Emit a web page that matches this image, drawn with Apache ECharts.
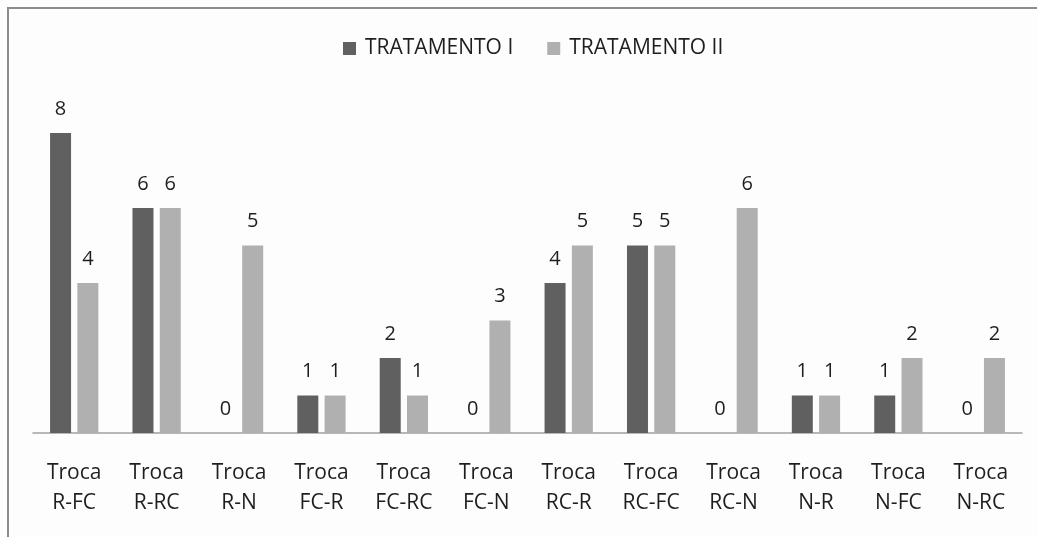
<!DOCTYPE html>
<html>
<head>
<meta charset="utf-8">
<script src="https://cdn.jsdelivr.net/npm/echarts@6/dist/echarts.min.js"></script>
<style>
html,body{margin:0;padding:0;background:#fdfdfd;}
#frame{position:absolute;left:7px;top:7px;width:1040px;height:540px;border-left:2px solid #8c8c8c;border-top:2px solid #8c8c8c;}
#chart{position:absolute;left:0;top:0;width:1037px;height:537px;}
</style>
</head>
<body>
<div id="frame"></div>
<div id="chart"></div>
<script>
const categories = ['Troca\nR-FC','Troca\nR-RC','Troca\nR-N','Troca\nFC-R','Troca\nFC-RC','Troca\nFC-N','Troca\nRC-R','Troca\nRC-FC','Troca\nRC-N','Troca\nN-R','Troca\nN-FC','Troca\nN-RC'];
const seriesNames = ['TRATAMENTO I','TRATAMENTO II'];
const tratamentoI = [8,6,0,1,2,0,4,5,0,1,1,0];
const tratamentoII = [4,6,5,1,1,3,5,5,6,1,2,2];

const font = '"Open Sans", "Noto Sans", sans-serif';
const chart = echarts.init(document.getElementById('chart'));
const labelCfg = {show:true, position:'top', distance:14, fontSize:20, fontFamily:font, color:'#1e1e1e'};
chart.setOption({
  backgroundColor:'transparent',
  animation:false,
  legend:{
    top:33, left:338, itemWidth:13, itemHeight:13, itemGap:34,
    icon:'rect',
    textStyle:{fontSize:21, fontFamily:font, color:'#1e1e1e', padding:[0,0,0,4]},
    data:seriesNames
  },
  grid:{left:33, right:15, top:133, bottom:104, containLabel:false},
  xAxis:{
    type:'category', data:categories,
    axisLine:{lineStyle:{color:'#a0a0a0', width:1.5}},
    axisTick:{show:false},
    axisLabel:{fontSize:21, fontFamily:font, color:'#1e1e1e', lineHeight:30, margin:25, interval:0}
  },
  yAxis:{type:'value', min:0, max:8, show:false, splitLine:{show:false}},
  series:[
    {name:seriesNames[0], type:'bar', data:tratamentoI, barWidth:21, barGap:'30%', itemStyle:{color:'#606060'}, label:labelCfg},
    {name:seriesNames[1], type:'bar', data:tratamentoII, barWidth:21, barGap:'30%', itemStyle:{color:'#b0b0b0'}, label:labelCfg}
  ]
});
</script>
</body>
</html>
